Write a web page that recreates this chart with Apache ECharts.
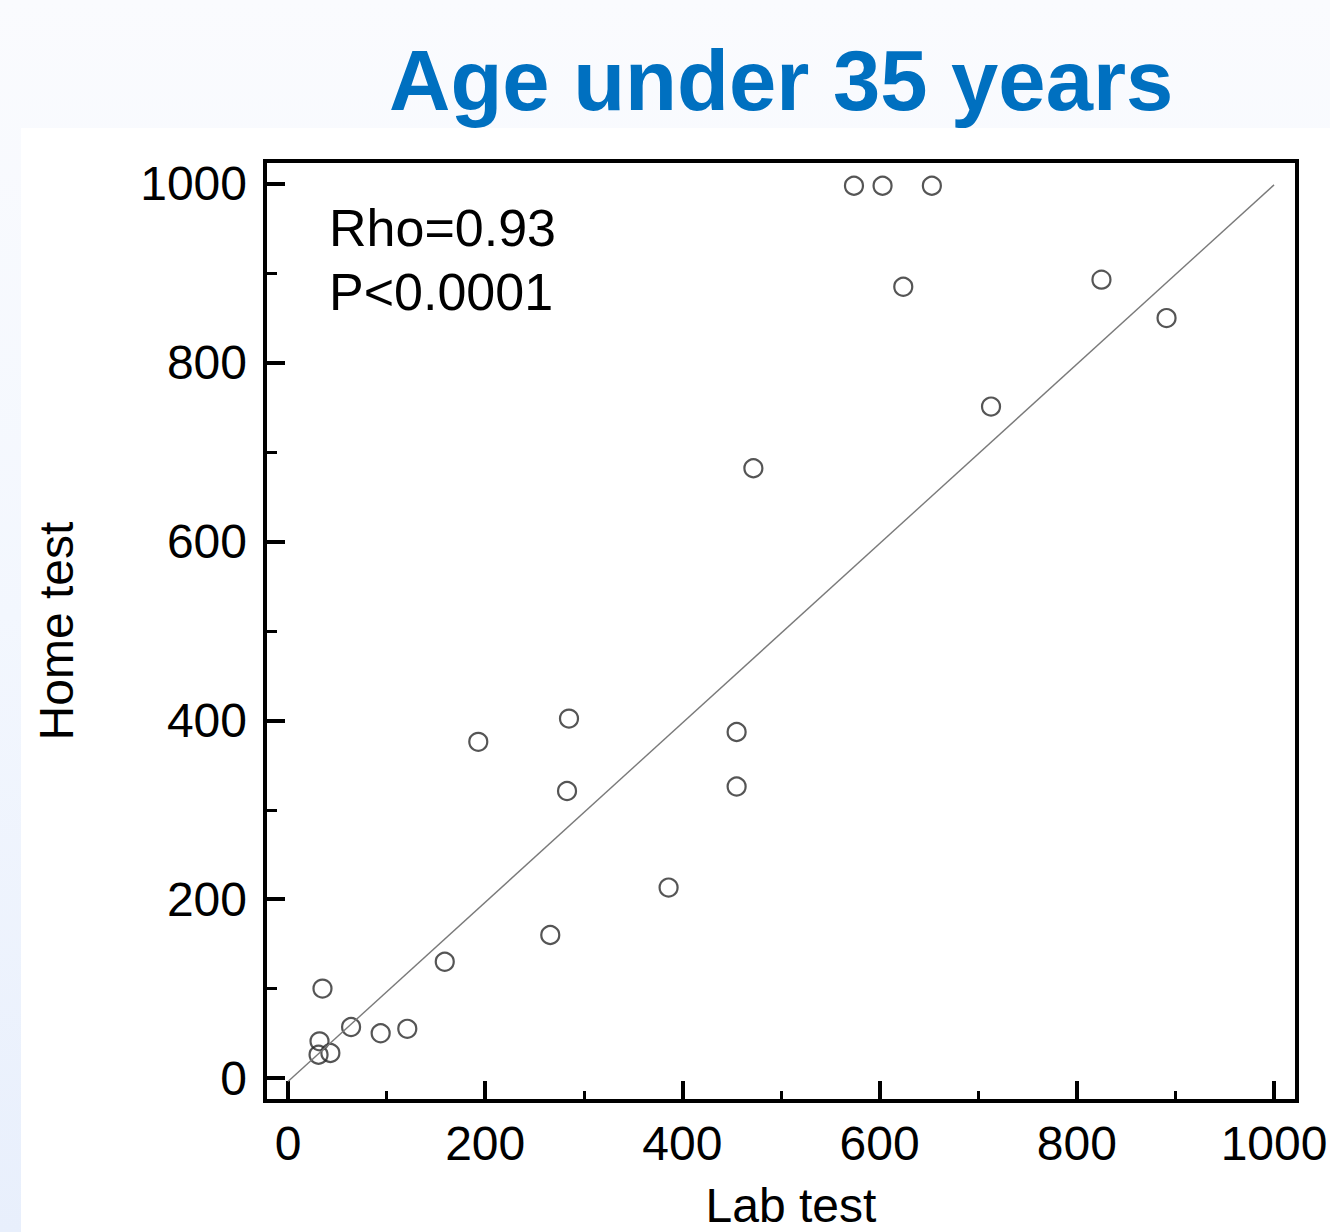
<!DOCTYPE html>
<html>
<head>
<meta charset="utf-8">
<script src="https://cdn.jsdelivr.net/npm/echarts@6/dist/echarts.min.js"></script>
<style>
  html, body { margin: 0; padding: 0; }
  body { width: 1330px; height: 1232px; background: linear-gradient(180deg, #fafbfe 0%, #f3f7fe 50%, #e8effc 100%); position: relative; overflow: hidden; }
  #panel { position: absolute; left: 21px; top: 128px; width: 1309px; height: 1104px; background: #ffffff; }
  #chart { position: absolute; left: 0; top: 0; width: 1330px; height: 1232px; }
</style>
</head>
<body>
<div id="panel"></div>
<div id="chart"></div>
<script>
// ---- data ----
const labTest  = [35, 32, 43, 31, 64, 94, 121, 159, 193, 266, 283, 285, 386, 455, 455, 472, 574, 603, 653, 624, 713, 825, 891];
const homeTest = [100, 41, 28, 26, 57, 50, 55, 130, 376, 160, 321, 402, 213, 387, 326, 682, 998, 998, 998, 885, 751, 893, 850];
const regLineX = [0, 1000];
const regLineY = [-4, 999];
const majorTicks = [0, 200, 400, 600, 800, 1000];
const minorTicks = [100, 300, 500, 700, 900];
const titleText = 'Age under 35 years';
const statText = ['Rho=0.93', 'P<0.0001'];
const xName = 'Lab test';
const yName = 'Home test';

const points = labTest.map((x, i) => [x, homeTest[i]]);
const regLine = regLineX.map((x, i) => [x, regLineY[i]]);

const FONT = '"Liberation Sans", Arial, sans-serif';
const chart = echarts.init(document.getElementById('chart'), null, { renderer: 'svg' });

const xMin = -23.3, xMax = 1023.3, yMin = -25.7, yMax = 1025.7;
const plainLabel = v => String(Math.round(v));

chart.setOption({
  backgroundColor: 'transparent',
  animation: false,
  title: {
    text: titleText,
    left: 384, top: 33,
    textStyle: { fontFamily: FONT, fontSize: 85, fontWeight: 'bold', color: '#0070C0' }
  },
  graphic: [{
    type: 'text', left: 329, top: 196,
    style: { text: statText.join('\n'), fontFamily: FONT, fontSize: 52, lineHeight: 64, fill: '#000' }
  }],
  grid: {
    left: 265, right: 33, top: 161, bottom: 131,
    outerBoundsMode: 'none', containLabel: false,
    show: true, borderColor: '#000', borderWidth: 4, backgroundColor: 'transparent'
  },
  xAxis: [{
    type: 'value', min: xMin, max: xMax, position: 'bottom',
    splitLine: { show: false },
    axisLine: { show: true, onZero: false, lineStyle: { color: '#000', width: 4 } },
    axisTick: { show: true, inside: true, length: 20, lineStyle: { color: '#000', width: 4 }, customValues: majorTicks },
    axisLabel: { customValues: majorTicks, formatter: plainLabel, fontFamily: FONT, fontSize: 48, color: '#000', margin: 18 },
    name: xName, nameLocation: 'middle', nameGap: 80,
    nameTextStyle: { fontFamily: FONT, fontSize: 48, lineHeight: 48, color: '#000', padding: [0, 0, 0, 20] }
  }, {
    type: 'value', min: xMin, max: xMax, position: 'bottom',
    splitLine: { show: false },
    axisLine: { show: false, onZero: false },
    axisTick: { show: true, inside: true, length: 10, lineStyle: { color: '#000', width: 3 }, customValues: minorTicks },
    axisLabel: { show: false }
  }],
  yAxis: [{
    type: 'value', min: yMin, max: yMax, position: 'left',
    splitLine: { show: false },
    axisLine: { show: true, onZero: false, lineStyle: { color: '#000', width: 4 } },
    axisTick: { show: true, inside: true, length: 20, lineStyle: { color: '#000', width: 4 }, customValues: majorTicks },
    axisLabel: { customValues: majorTicks, formatter: plainLabel, fontFamily: FONT, fontSize: 48, color: '#000', margin: 18 },
    name: yName, nameLocation: 'middle', nameGap: 185, nameRotate: 90,
    nameTextStyle: { fontFamily: FONT, fontSize: 48, color: '#000' }
  }, {
    type: 'value', min: yMin, max: yMax, position: 'left',
    splitLine: { show: false },
    axisLine: { show: false, onZero: false },
    axisTick: { show: true, inside: true, length: 12, lineStyle: { color: '#000', width: 3 }, customValues: minorTicks },
    axisLabel: { show: false }
  }],
  series: [{
    type: 'line', data: regLine, xAxisIndex: 0, yAxisIndex: 0,
    symbol: 'none', silent: true,
    lineStyle: { color: '#7a7a7a', width: 1.4 }
  }, {
    type: 'scatter', data: points, xAxisIndex: 0, yAxisIndex: 0,
    symbol: 'circle', symbolSize: 18,
    itemStyle: { color: 'rgba(0,0,0,0)', borderColor: '#2a2a2a', borderWidth: 2.2 }
  }]
});
</script>
</body>
</html>
